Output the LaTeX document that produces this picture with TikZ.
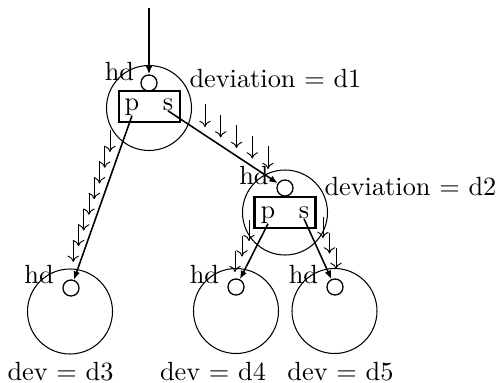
\documentclass[tikz,border=0pt]{standalone}
\usepackage{tikz}
\usepackage{tkz-euclide}
\usetikzlibrary{calc,arrows.meta}

\tikzset{
  cell/.style={circle,draw,line width=0.4pt,minimum size=32.3pt,inner sep=0pt},
  head/.style={circle,draw,line width=0.5pt,minimum size=6.1pt,inner sep=0pt},
  pair/.style={rectangle,draw,line width=1pt,minimum width=23.2pt,minimum height=11.8pt,inner sep=0pt},
  txt/.style={inner sep=0pt},
  ptr/.style={-{Latex[length=3.2pt,width=2.6pt]},line width=0.6pt},
  drift/.style={-{To[length=2.4pt,width=4.4pt]},line width=0.35pt},
}

\begin{document}
\begin{tikzpicture}[x=0.38pt,y=-0.38pt]
    \useasboundingbox (0,0) rectangle (497,383);
    \tkzDefPoint(149,108){R}
    \tkzDefPoint(285,212.5){M}
    \tkzDefPoint(70,311.5){L}
    \tkzDefPoint(236,311){N}
    \tkzDefPoint(334.5,311){Q}
    \coordinate (in) at (149,8);
    % cells
    \node[cell] (cR) at (R) {};
    \node[cell] (cM) at (M) {};
    \node[cell] (cL) at (L) {};
    \node[cell] (cN) at (N) {};
    \node[cell] (cQ) at (Q) {};
    \node[head] (hR) at (149,83) {};
    \node[head] (hM) at (285,188) {};
    \node[head] (hL) at (71,288) {};
    \node[head] (hN) at (236,287) {};
    \node[head] (hQ) at (335,287) {};
    % pointer pairs
    \node[pair] (bR) at (149.5,106.5) {};
    \node[pair] (bM) at (285,212.5) {};
    \node[txt,anchor=base] (pR) at (132,110) {p};
    \node[txt,anchor=base] (sR) at (168,110) {s};
    \node[txt,anchor=base] (pM) at (268,218) {p};
    \node[txt,anchor=base] (sM) at (304,218) {s};
    % labels
    \node[txt,anchor=base] (hdR) at (119.5,80) {hd};
    \node[txt,anchor=base west] (devR) at (189,87) {deviation = d1};
    \node[txt,anchor=base] (hdM) at (254,184) {hd};
    \node[txt,anchor=base west] (devM) at (324,195) {deviation = d2};
    \node[txt,anchor=base] (hdL) at (39,283) {hd};
    \node[txt,anchor=base] (hdN) at (204.5,283) {hd};
    \node[txt,anchor=base] (hdQ) at (303.5,283) {hd};
    \node[txt,anchor=base] (devL) at (60.5,380) {dev = d3};
    \node[txt,anchor=base] (devN) at (213,380) {dev = d4};
    \node[txt,anchor=base] (devQ) at (340.5,380) {dev = d5};
    % pointers
    \draw[ptr] (in) -- (hR);
    \draw[ptr] (pR.south) -- (hL);
    \draw[ptr] (sR.south) -- (hM);
    \draw[ptr] (pM.south) -- (hN);
    \draw[ptr] (sM.south) -- (hQ);
    % drift along the pointers
    \foreach \i in {0,...,7} \draw[drift] ({110-5.25*\i},{130+15.7*\i}) -- ++(0,22);
    \foreach \i in {0,...,4} \draw[drift] ({205+15.75*\i},{104+10.5*\i}) -- ++(0,23);
    \foreach \i in {0,...,2} \draw[drift] ({249-7*\i},{220+15.5*\i}) -- ++(0,21);
    \foreach \i in {0,...,2} \draw[drift] ({323+6.5*\i},{217+15.5*\i}) -- ++(0,21);
\end{tikzpicture}
\end{document}
